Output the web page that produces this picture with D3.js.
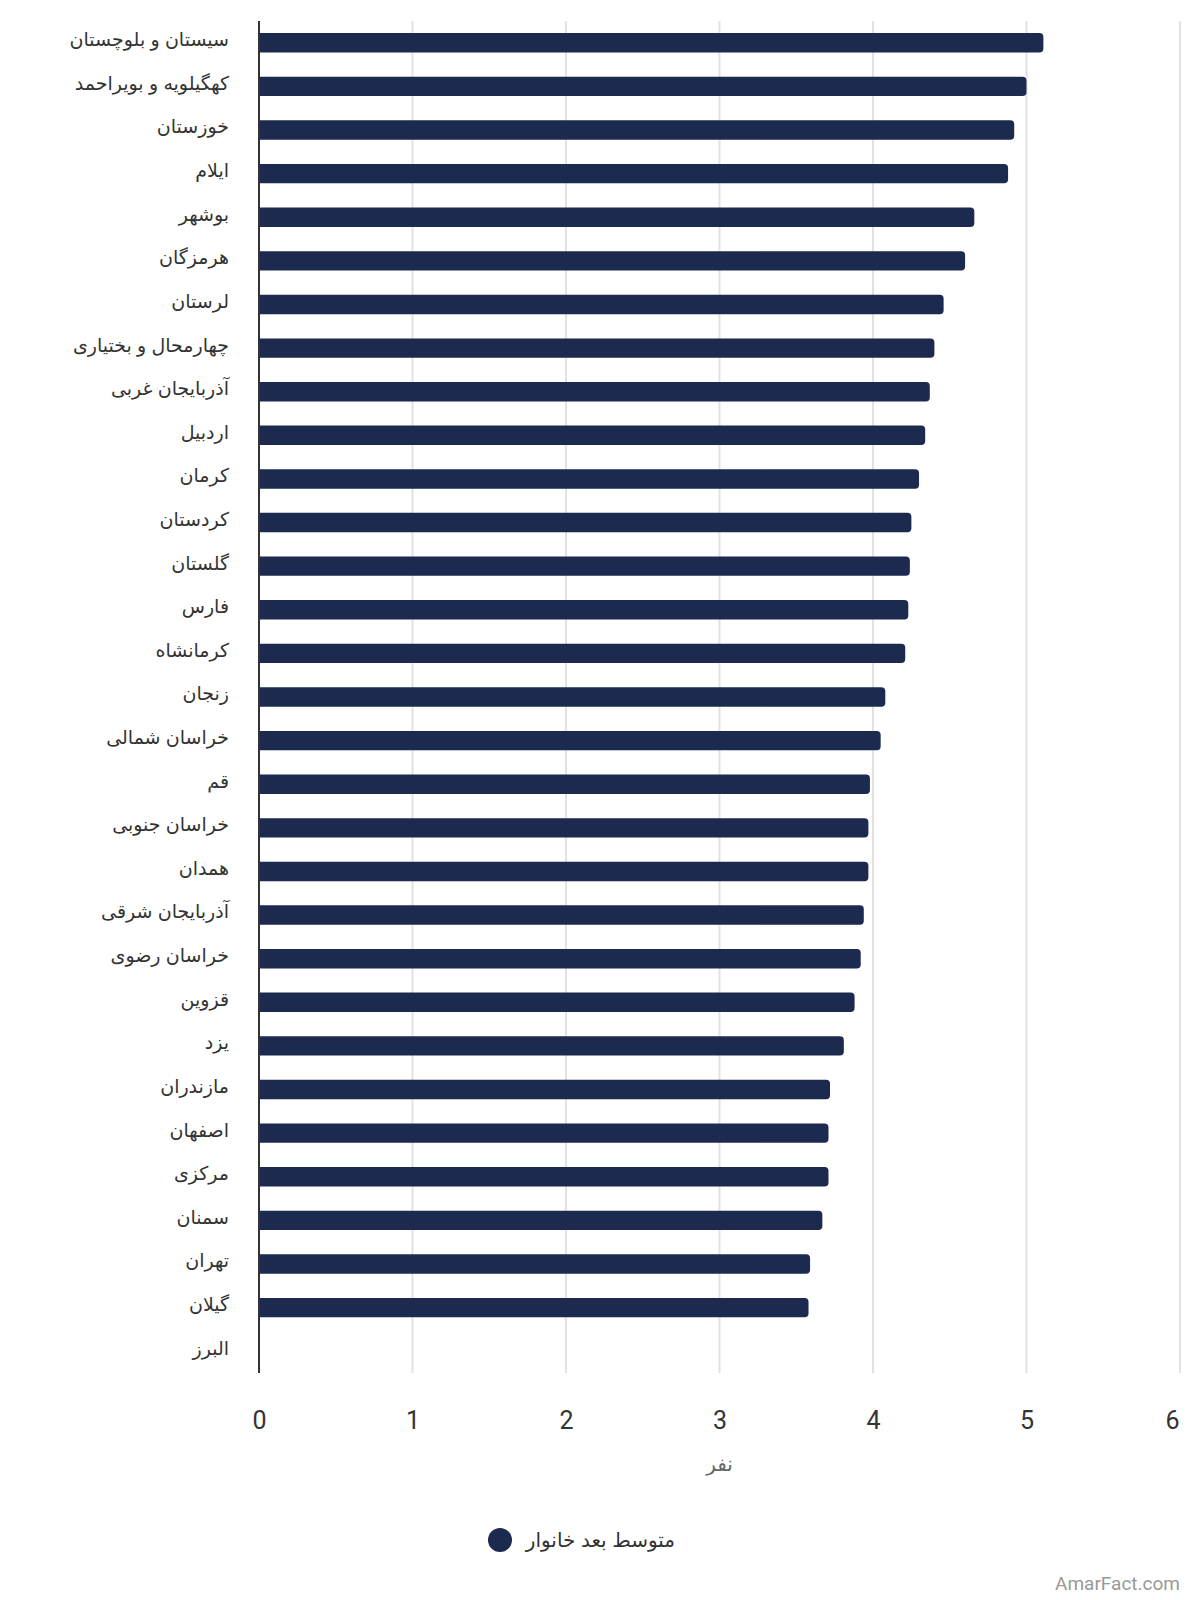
<!DOCTYPE html>
<html>
<head>
<meta charset="utf-8">
<script src="https://cdn.jsdelivr.net/npm/d3@7"></script>
<style>
  body { margin: 0; background: #fff; }
  .label { font-family: "Liberation Sans", "DejaVu Sans", sans-serif; font-size: 19px; fill: #333; }
  .tick text { font-family: Roboto, sans-serif; }
</style>
</head>
<body>
<div id="bar_chart"></div>
<script>
// provinces, top to bottom
const PROVINCES = ["سیستان و بلوچستان", "کهگیلویه و بویراحمد", "خوزستان", "ایلام", "بوشهر",
  "هرمزگان", "لرستان", "چهارمحال و بختیاری", "آذربایجان غربی", "اردبیل", "کرمان", "کردستان",
  "گلستان", "فارس", "کرمانشاه", "زنجان", "خراسان شمالی", "قم", "خراسان جنوبی", "همدان",
  "آذربایجان شرقی", "خراسان رضوی", "قزوین", "یزد", "مازندران", "اصفهان", "مرکزی", "سمنان",
  "تهران", "گیلان", "البرز"];

// average household size (البرز has no value in the source)
const HOUSEHOLD = [5.11, 5.0, 4.92, 4.88, 4.66, 4.60, 4.46, 4.40, 4.37, 4.34, 4.30, 4.25,
  4.24, 4.23, 4.21, 4.08, 4.05, 3.98, 3.97, 3.97, 3.94, 3.92, 3.88, 3.81, 3.72, 3.71, 3.71, 3.67,
  3.59, 3.58, null];

const X_TICKS = [0, 1, 2, 3, 4, 5, 6];
const X_TITLE = "نفر";
const SERIES_NAME = "متوسط بعد خانوار";

const FRAME_HEIGHT = 1600;
const FRAME_WIDTH = 1200;
const MARGINS = {left: 259, right: 20, top: 21, bottom: 227};
const VIS_HEIGHT = FRAME_HEIGHT - MARGINS.top - MARGINS.bottom;
const VIS_WIDTH = 1180 - MARGINS.left;

const FRAME = d3.select("#bar_chart")
  .append("svg")
    .attr("height", FRAME_HEIGHT)
    .attr("width", FRAME_WIDTH);

const X_SCALE = d3.scaleLinear().domain([0, 6]).range([0, VIS_WIDTH]);
const Y_SCALE = d3.scaleBand()
  .domain(PROVINCES)
  .range([0, VIS_HEIGHT])
  .paddingInner(0.555)
  .paddingOuter(0.2775);

const G = FRAME.append("g")
  .attr("transform", "translate(" + MARGINS.left + "," + MARGINS.top + ")");

// gridlines
G.selectAll(".grid")
  .data(X_TICKS.slice(1))
  .enter()
  .append("line")
    .attr("x1", (d) => X_SCALE(d))
    .attr("x2", (d) => X_SCALE(d))
    .attr("y1", 0)
    .attr("y2", VIS_HEIGHT)
    .attr("stroke", "#e2e2e2")
    .attr("stroke-width", 2);

// bars with rounded right end
const R = 4;
G.selectAll(".bar")
  .data(PROVINCES.map((p, i) => ({name: p, value: HOUSEHOLD[i]})).filter((d) => d.value != null))
  .enter()
  .append("path")
    .attr("class", "bar")
    .attr("fill", "#1b2a4e")
    .attr("d", (d) => {
      const y = Y_SCALE(d.name), h = Y_SCALE.bandwidth(), w = X_SCALE(d.value);
      return "M0," + y + "H" + (w - R) + "Q" + w + "," + y + " " + w + "," + (y + R) +
        "V" + (y + h - R) + "Q" + w + "," + (y + h) + " " + (w - R) + "," + (y + h) + "H0Z";
    });

// y axis line
G.append("line")
  .attr("x1", 0).attr("x2", 0)
  .attr("y1", 0).attr("y2", VIS_HEIGHT)
  .attr("stroke", "#333")
  .attr("stroke-width", 2);

// province labels
G.selectAll(".label")
  .data(PROVINCES)
  .enter()
  .append("text")
    .attr("class", "label")
    .attr("x", -30)
    .attr("y", (d) => Y_SCALE(d) + Y_SCALE.bandwidth() / 2)
    .attr("dy", "0.18em")
    .attr("text-anchor", "end")
    .text((d) => d);

// x axis
const X_AXIS = G.append("g")
  .attr("transform", "translate(0," + VIS_HEIGHT + ")")
  .call(d3.axisBottom(X_SCALE).tickValues(X_TICKS).tickSize(0).tickPadding(38).tickFormat(d3.format("d")));
X_AXIS.select(".domain").remove();
X_AXIS.selectAll("text")
  .attr("font-size", "25px")
  .attr("fill", "#333")
  .attr("dx", (d) => d === 6 ? -8 : 0);

// axis title
FRAME.append("text")
  .attr("x", MARGINS.left + X_SCALE(3))
  .attr("y", 1471)
  .attr("text-anchor", "middle")
  .attr("font-family", "Liberation Sans, DejaVu Sans, sans-serif")
  .attr("font-size", "20px")
  .attr("fill", "#666")
  .text(X_TITLE);

// legend
FRAME.append("circle")
  .attr("cx", 500)
  .attr("cy", 1540)
  .attr("r", 12)
  .attr("fill", "#1b2a4e");
FRAME.append("text")
  .attr("x", 675)
  .attr("y", 1547)
  .attr("text-anchor", "end")
  .attr("font-family", "Liberation Sans, DejaVu Sans, sans-serif")
  .attr("font-size", "20px")
  .attr("fill", "#333")
  .text(SERIES_NAME);

// watermark
FRAME.append("text")
  .attr("x", 1180)
  .attr("y", 1590)
  .attr("text-anchor", "end")
  .attr("font-family", "Roboto, sans-serif")
  .attr("font-size", "19px")
  .attr("fill", "#999")
  .text("AmarFact.com");
</script>
</body>
</html>
